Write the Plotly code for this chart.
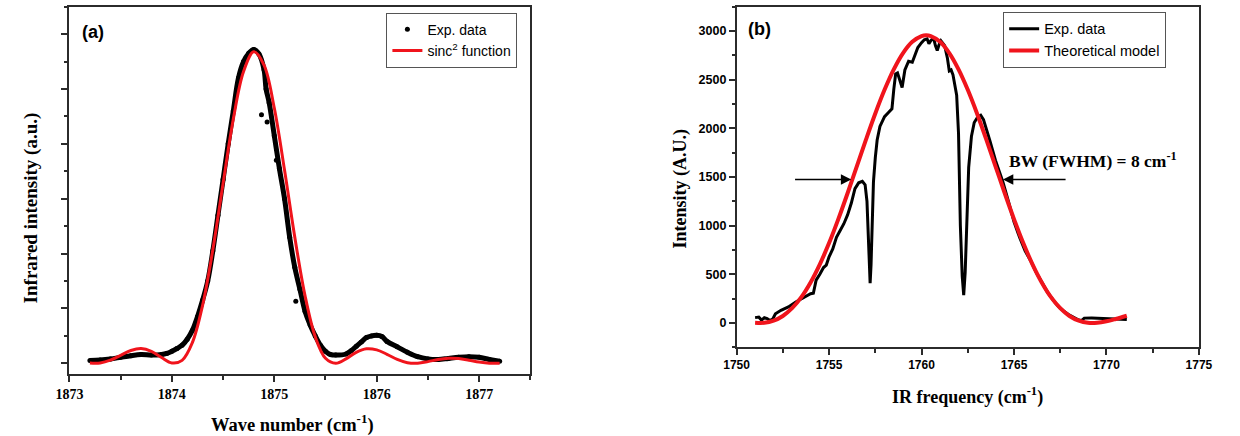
import plotly.graph_objects as go

# ---------------- Panel (a) data ----------------
a_exp_x = [1873.20, 1873.30, 1873.40, 1873.50, 1873.60, 1873.70, 1873.80, 1873.90, 1873.95,
           1874.00, 1874.05, 1874.10, 1874.15, 1874.20, 1874.25, 1874.30, 1874.35, 1874.40,
           1874.45, 1874.50, 1874.55, 1874.60, 1874.65, 1874.70, 1874.75, 1874.80, 1874.85,
           1874.90, 1874.92, 1874.95, 1875.00, 1875.05, 1875.10, 1875.15, 1875.20, 1875.25,
           1875.30, 1875.35, 1875.40, 1875.45, 1875.50, 1875.55, 1875.60, 1875.70, 1875.75,
           1875.80, 1875.85, 1875.90, 1875.95, 1876.00, 1876.05, 1876.10, 1876.20, 1876.30,
           1876.40, 1876.50, 1876.60, 1876.70, 1876.80, 1876.90, 1877.00, 1877.10, 1877.20]
a_exp_y = [0.05, 0.06, 0.08, 0.11, 0.14, 0.16, 0.15, 0.16, 0.18,
           0.22, 0.27, 0.33, 0.44, 0.60, 0.85, 1.15, 1.50, 2.05,
           2.70, 3.35, 4.00, 4.60, 5.20, 5.50, 5.65, 5.72, 5.64,
           5.35, 5.00, 4.75, 4.15, 3.55, 3.00, 2.30, 1.75, 1.35,
           0.95, 0.70, 0.50, 0.33, 0.22, 0.16, 0.15, 0.17, 0.23,
           0.31, 0.39, 0.47, 0.50, 0.51, 0.49, 0.40, 0.30, 0.20,
           0.12, 0.08, 0.07, 0.09, 0.11, 0.12, 0.11, 0.07, 0.04]
a_out_x = [1874.875, 1875.21, 1874.93, 1875.02]
a_out_y = [4.53, 1.13, 4.40, 3.70]

a_fit_x = [1873.2, 1873.3, 1873.4, 1873.5, 1873.6, 1873.7, 1873.8, 1873.9, 1874.0, 1874.1,
           1874.2, 1874.3, 1874.4, 1874.5, 1874.6, 1874.7, 1874.8, 1874.9, 1875.0, 1875.1,
           1875.2, 1875.3, 1875.4, 1875.5, 1875.6, 1875.7, 1875.8, 1875.9, 1876.0, 1876.1,
           1876.2, 1876.3, 1876.4, 1876.5, 1876.6, 1876.7, 1876.8, 1876.9, 1877.0, 1877.1, 1877.2]
a_fit_y = [0.005, 0.006, 0.057, 0.146, 0.233, 0.268, 0.220, 0.106, 0.008, 0.054,
           0.376, 1.057, 2.070, 3.278, 4.451, 5.317, 5.677, 5.435, 4.653, 3.523,
           2.302, 1.235, 0.483, 0.092, 0.001, 0.081, 0.200, 0.265, 0.246, 0.165,
           0.072, 0.012, 0.002, 0.031, 0.070, 0.092, 0.086, 0.057, 0.024, 0.003, 0.002]

a_xticks = [1873, 1874, 1875, 1876, 1877]

# ---------------- Panel (b) data ----------------
b_exp_x = [1751.0, 1751.2, 1751.35, 1751.5, 1751.65, 1751.8, 1751.95, 1752.1, 1752.4, 1752.8,
           1753.2, 1753.6, 1754.0, 1754.15, 1754.3, 1754.5, 1754.7, 1754.85, 1755.0, 1755.2,
           1755.4, 1755.6, 1755.8, 1756.0, 1756.2, 1756.4, 1756.6, 1756.8, 1756.95, 1757.05,
           1757.12, 1757.18, 1757.22, 1757.27, 1757.33, 1757.4, 1757.5, 1757.6, 1757.75, 1758.0,
           1758.2, 1758.4, 1758.5, 1758.6, 1758.7, 1758.8, 1758.95, 1759.1, 1759.3, 1759.5,
           1759.65, 1759.8, 1760.0, 1760.15, 1760.3, 1760.4, 1760.5, 1760.65, 1760.75, 1760.85,
           1760.95, 1761.05, 1761.25, 1761.4, 1761.5, 1761.6, 1761.7, 1761.8, 1761.9, 1762.0,
           1762.1, 1762.2, 1762.28, 1762.36, 1762.45, 1762.55, 1762.7, 1762.85, 1763.05, 1763.2,
           1763.35, 1763.5, 1763.7, 1764.0, 1764.2, 1764.4, 1764.7, 1765.0, 1765.3, 1765.6,
           1765.9, 1766.2, 1766.5, 1766.8, 1767.1, 1767.4, 1767.7, 1768.0, 1768.3, 1768.5,
           1768.65, 1768.8, 1769.2, 1769.8, 1770.4, 1771.1]
b_exp_y = [55, 60, 30, 55, 45, 25, 40, 95, 130, 165,
           215, 260, 300, 305, 440, 500, 570, 595, 680, 760,
           880, 950, 1020, 1110, 1230, 1380, 1440, 1455, 1420, 1250,
           900, 550, 410, 600, 1050, 1450, 1700, 1880, 2020, 2120,
           2160, 2200, 2400, 2560, 2570, 2510, 2420, 2600, 2690, 2680,
           2750, 2830, 2880, 2910, 2920, 2870, 2900, 2930, 2850, 2800,
           2860, 2900, 2850, 2720, 2590, 2600, 2550, 2450, 2340, 1950,
           1000, 480, 285, 520, 1150, 1600, 1920, 2060, 2120, 2135,
           2090, 2000, 1870, 1670, 1560, 1450, 1250, 1040, 880, 740,
           640, 520, 420, 320, 240, 170, 120, 80, 50, 30,
           25, 50, 52, 45, 45, 35]

b_fit_x = [1751.0, 1751.5, 1752.0, 1752.5, 1753.0, 1753.5, 1754.0, 1754.5, 1755.0, 1755.5,
           1756.0, 1756.5, 1757.0, 1757.5, 1758.0, 1758.5, 1759.0, 1759.5, 1760.0, 1760.25,
           1760.5, 1761.0, 1761.5, 1762.0, 1762.5, 1763.0, 1763.5, 1764.0, 1764.5, 1765.0,
           1765.5, 1766.0, 1766.5, 1767.0, 1767.5, 1768.0, 1768.5, 1769.0, 1769.5, 1770.0,
           1770.5, 1771.1]
b_fit_y = [2, 2, 24, 72, 152, 266, 417, 603, 821, 1067,
           1333, 1610, 1887, 2153, 2396, 2606, 2773, 2889, 2948, 2956,
           2948, 2889, 2773, 2606, 2396, 2153, 1887, 1610, 1333, 1067,
           821, 603, 417, 266, 152, 72, 24, 2, 2, 17,
           41, 74]

b_xticks = [1750, 1755, 1760, 1765, 1770, 1775]
b_yticks = [0, 500, 1000, 1500, 2000, 2500, 3000]

RED = "#f0141c"
AXC = "#2b2b2b"
SERIF = "Liberation Serif"
SANS = "Liberation Sans"

fig = go.Figure()

# (a) experimental band + dots
fig.add_trace(go.Scatter(x=a_exp_x, y=a_exp_y, mode="lines", line=dict(color="black", width=5, shape="spline"),
                         showlegend=False, hoverinfo="skip", xaxis="x", yaxis="y"))
fig.add_trace(go.Scatter(x=a_exp_x + a_out_x, y=a_exp_y + a_out_y, mode="markers",
                         marker=dict(color="black", size=5), name="Exp. data",
                         legend="legend", xaxis="x", yaxis="y"))
fig.add_trace(go.Scatter(x=a_fit_x, y=a_fit_y, mode="lines", line=dict(color=RED, width=3, shape="spline"),
                         name="sinc<sup>2</sup> function", legend="legend", xaxis="x", yaxis="y"))

# (b)
fig.add_trace(go.Scatter(x=b_exp_x, y=b_exp_y, mode="lines", line=dict(color="black", width=3),
                         name="Exp. data", legend="legend2", xaxis="x2", yaxis="y2"))
fig.add_trace(go.Scatter(x=b_fit_x, y=b_fit_y, mode="lines", line=dict(color=RED, width=4, shape="spline"),
                         name="Theoretical model", legend="legend2", xaxis="x2", yaxis="y2"))

W, H = 1240, 436

def px(xp):
    return xp / W

def py(yp):
    return 1 - yp / H

axis_common = dict(showline=True, linecolor=AXC, linewidth=1.5, mirror=True, showgrid=False,
                   zeroline=False, ticks="outside", tickcolor=AXC, tickwidth=1.5)

fig.update_layout(
    width=W, height=H, autosize=False,
    margin=dict(l=0, r=0, t=0, b=0),
    paper_bgcolor="white", plot_bgcolor="white",
    xaxis=dict(domain=[px(56.7), px(528.3)], range=[1873, 1877.5], tickvals=a_xticks,
               ticklen=6, tickfont=dict(family=SERIF, size=14, color="black", weight="bold"),
               minor=dict(dtick=0.5, ticklen=4, ticks="outside", tickcolor=AXC, tickwidth=1.5),
               anchor="y", **axis_common),
    yaxis=dict(domain=[py(374.3), py(6.7)], range=[-0.2, 6.5], dtick=1, tick0=0, ticklen=7,
               showticklabels=False,
               minor=dict(dtick=0.5, ticklen=4, ticks="outside", tickcolor=AXC, tickwidth=1.5),
               anchor="x", **axis_common),
    xaxis2=dict(domain=[px(739.3), px(1212.3)], range=[1750, 1775], tickvals=b_xticks,
                ticklen=6, tickfont=dict(family=SANS, size=12, color="black", weight="bold"),
                minor=dict(dtick=2.5, ticklen=4, ticks="outside", tickcolor=AXC, tickwidth=1.5),
                anchor="y2", **axis_common),
    yaxis2=dict(domain=[py(347.3), py(6.7)], range=[-250, 3250], tickvals=b_yticks, ticklen=6,
                tickfont=dict(family=SANS, size=12.5, color="black", weight="bold"),
                minor=dict(dtick=250, ticklen=3, ticks="outside", tickcolor=AXC, tickwidth=1.5),
                anchor="x2", **axis_common),
    legend=dict(x=px(381), y=py(12.7), xanchor="left", yanchor="top", bgcolor="white",
                bordercolor="#555", borderwidth=1, font=dict(family=SANS, size=14, color="black"),
                tracegroupgap=0, entrywidth=100, entrywidthmode="pixels"),
    legend2=dict(x=px(1012), y=py(11.7), xanchor="left", yanchor="top", bgcolor="white",
                 bordercolor="#555", borderwidth=1, font=dict(family=SANS, size=14.5, color="black"),
                 tracegroupgap=0, entrywidth=150, entrywidthmode="pixels"),
)

annotations = [
    dict(text="<b>(a)</b>", x=px(80.5), y=py(31.5), xref="paper", yref="paper", showarrow=False,
         font=dict(family=SANS, size=18, color="black"), xanchor="center", yanchor="middle"),
    dict(text="<b>(b)</b>", x=px(763), y=py(29), xref="paper", yref="paper", showarrow=False,
         font=dict(family=SANS, size=18, color="black"), xanchor="center", yanchor="middle"),
    dict(text="<b>Infrared intensity (a.u.)</b>", x=px(17.8), y=py(208), xref="paper", yref="paper",
         showarrow=False, textangle=-90, font=dict(family=SERIF, size=19, color="black"),
         xanchor="center", yanchor="middle"),
    dict(text="<b>Wave number (cm<sup>-1</sup>)</b>", x=px(285), y=py(423), xref="paper", yref="paper",
         showarrow=False, font=dict(family=SERIF, size=18.5, color="black"), xanchor="center", yanchor="middle"),
    dict(text="<b>Intensity (A.U.)</b>", x=px(681), y=py(189), xref="paper", yref="paper",
         showarrow=False, textangle=-90, font=dict(family=SERIF, size=18, color="black"),
         xanchor="center", yanchor="middle"),
    dict(text="<b>IR frequency (cm<sup>-1</sup>)</b>", x=px(976), y=py(396), xref="paper", yref="paper",
         showarrow=False, font=dict(family=SERIF, size=18, color="black"), xanchor="center", yanchor="middle"),
    dict(text="<b>BW (FWHM) = 8 cm<sup>-1</sup></b>", x=1764.6, y=1672, xref="x2", yref="y2",
         showarrow=False, font=dict(family=SERIF, size=17.5, color="black"), xanchor="left", yanchor="middle"),
    dict(text="", x=1756.2, y=1475, ax=1753.08, ay=1475, xref="x2", yref="y2", axref="x2", ayref="y2",
         showarrow=True, arrowhead=2, arrowsize=1.3, arrowwidth=1.6, arrowcolor="black", standoff=0),
    dict(text="", x=1764.4, y=1475, ax=1767.87, ay=1475, xref="x2", yref="y2", axref="x2", ayref="y2",
         showarrow=True, arrowhead=2, arrowsize=1.3, arrowwidth=1.6, arrowcolor="black", standoff=0),
]
fig.update_layout(annotations=annotations)

fig.write_html("out.html")
